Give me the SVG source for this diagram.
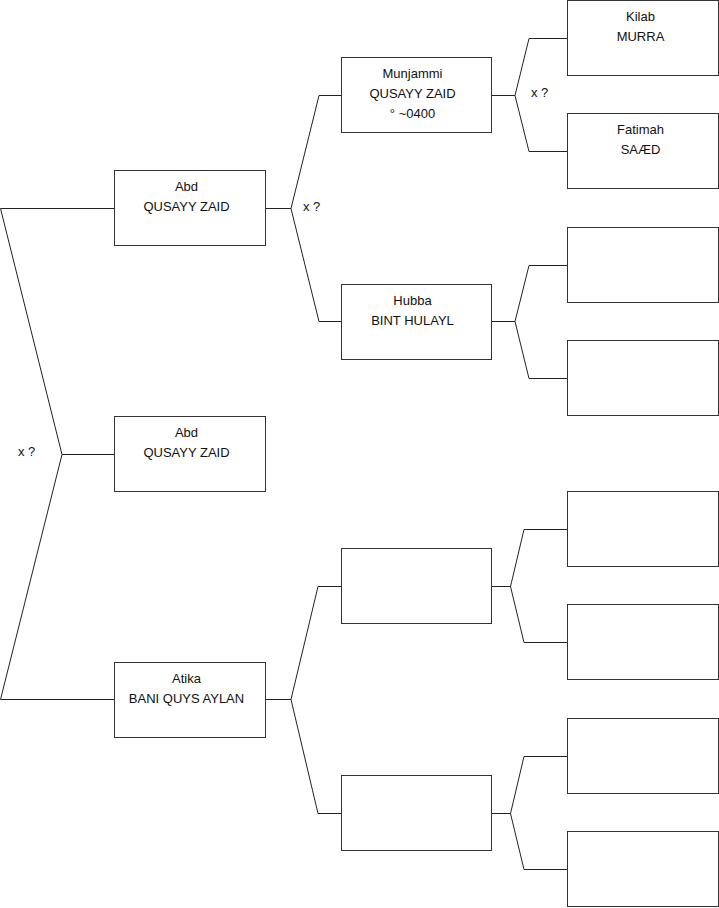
<svg xmlns="http://www.w3.org/2000/svg" width="719" height="908" viewBox="0 0 719 908">
<style>
.box{fill:#fff;stroke:#333;stroke-width:1}
.c{fill:none;stroke:#222;stroke-width:1}
text{font-family:"Liberation Sans",Arial,sans-serif;font-size:13px;fill:#111}
.t{text-anchor:middle}
</style>
<rect width="719" height="908" fill="#fff"/>
<g id="connectors">
<polyline class="c" points="114,208.5 0.5,208.5 62,454.5 0.5,699.5 114,699.5"/>
<line class="c" x1="62" y1="454.5" x2="114" y2="454.5"/>
<polyline class="c" points="265,208.5 291,208.5 319,95.5 341,95.5"/>
<polyline class="c" points="291,208.5 319,321.5 341,321.5"/>
<polyline class="c" points="265,699.5 291,699.5 318,586.5 341,586.5"/>
<polyline class="c" points="291,699.5 318,813.5 341,813.5"/>
<polyline class="c" points="492,95.5 515,95.5 529,38.5 567,38.5"/>
<polyline class="c" points="515,95.5 529,151.5 567,151.5"/>
<polyline class="c" points="492,321.5 515,321.5 529,265.5 567,265.5"/>
<polyline class="c" points="515,321.5 529,378.5 567,378.5"/>
<polyline class="c" points="492,586.5 510.5,586.5 524,529.5 567,529.5"/>
<polyline class="c" points="510.5,586.5 524,642.5 567,642.5"/>
<polyline class="c" points="492,813.5 510.5,813.5 524,756.5 567,756.5"/>
<polyline class="c" points="510.5,813.5 524,869.5 567,869.5"/>
<text x="18" y="456">x ?</text>
<text x="303" y="211">x ?</text>
<text x="531" y="97">x ?</text>
</g>
<g id="n-abd1"><rect class="box" x="114.5" y="170.5" width="151" height="75"/><text class="t" x="186.5" y="191">Abd</text><text class="t" x="186.5" y="211">QUSAYY ZAID</text></g>
<g id="n-abd2"><rect class="box" x="114.5" y="416.5" width="151" height="75"/><text class="t" x="186.5" y="437">Abd</text><text class="t" x="186.5" y="457">QUSAYY ZAID</text></g>
<g id="n-atika"><rect class="box" x="114.5" y="662.5" width="151" height="75"/><text class="t" x="186.5" y="683">Atika</text><text class="t" x="186.5" y="703">BANI QUYS AYLAN</text></g>
<g id="n-munjammi"><rect class="box" x="341.5" y="57.5" width="150" height="75"/><text class="t" x="412.5" y="78">Munjammi</text><text class="t" x="412.5" y="98">QUSAYY ZAID</text><text class="t" x="412.5" y="118">° ~0400</text></g>
<g id="n-hubba"><rect class="box" x="341.5" y="284.5" width="150" height="75"/><text class="t" x="412.5" y="305">Hubba</text><text class="t" x="412.5" y="325">BINT HULAYL</text></g>
<g id="n-g2c"><rect class="box" x="341.5" y="548.5" width="150" height="75"/></g>
<g id="n-g2d"><rect class="box" x="341.5" y="775.5" width="150" height="75"/></g>
<g id="n-kilab"><rect class="box" x="567.5" y="0.5" width="151" height="75"/><text class="t" x="640.5" y="21">Kilab</text><text class="t" x="640.5" y="41">MURRA</text></g>
<g id="n-fatimah"><rect class="box" x="567.5" y="113.5" width="151" height="75"/><text class="t" x="640.5" y="134">Fatimah</text><text class="t" x="640.5" y="154">SAÆD</text></g>
<g id="n-g3c"><rect class="box" x="567.5" y="227.5" width="151" height="75"/></g>
<g id="n-g3d"><rect class="box" x="567.5" y="340.5" width="151" height="75"/></g>
<g id="n-g3e"><rect class="box" x="567.5" y="491.5" width="151" height="75"/></g>
<g id="n-g3f"><rect class="box" x="567.5" y="604.5" width="151" height="75"/></g>
<g id="n-g3g"><rect class="box" x="567.5" y="718.5" width="151" height="75"/></g>
<g id="n-g3h"><rect class="box" x="567.5" y="831.5" width="151" height="75"/></g>
</svg>
